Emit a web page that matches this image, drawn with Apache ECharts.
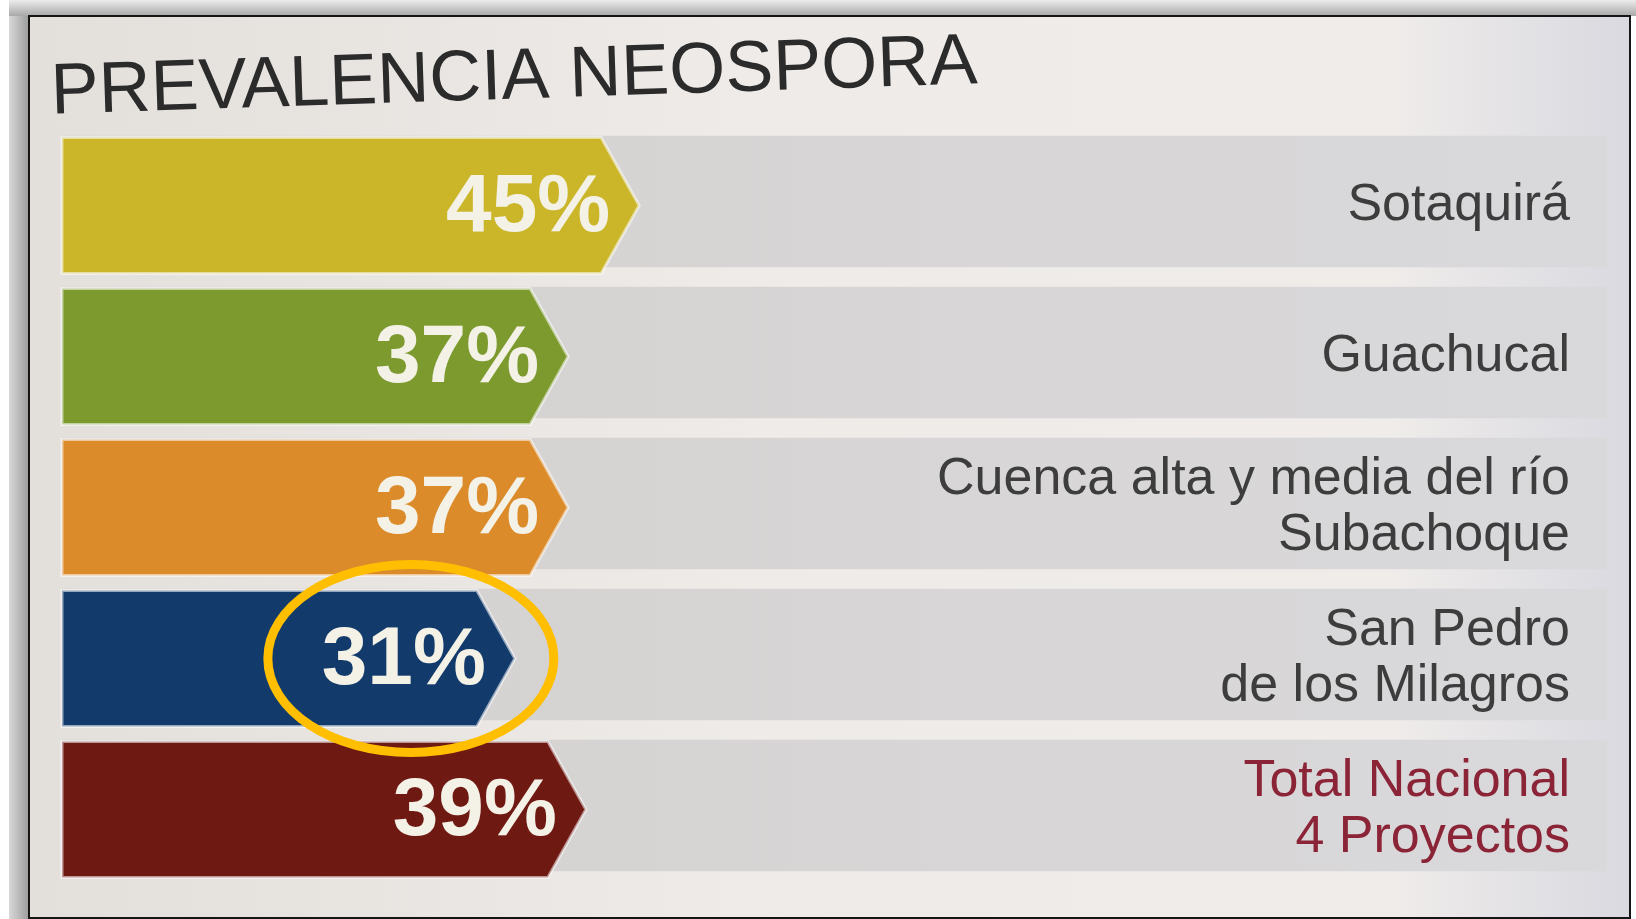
<!DOCTYPE html>
<html>
<head>
<meta charset="utf-8">
<title>Prevalencia Neospora</title>
<script src="https://cdn.jsdelivr.net/npm/echarts@6/dist/echarts.min.js"></script>
<style>
  html, body { margin: 0; padding: 0; background: #ffffff; }
  #chartBox { width: 1636px; height: 919px; }
</style>
</head>
<body>
<div id="chartBox"></div>
<script>
// datos
var categories = [
  'Sotaquirá',
  'Guachucal',
  'Cuenca alta y media del río\nSubachoque',
  'San Pedro\nde los Milagros',
  'Total Nacional\n4 Proyectos'
];
var values = [45, 37, 37, 31, 39];
var highlightIndex = 3; // fila marcada con la elipse amarilla

// colores de cada flecha
var barColors = ['#cbb62a', '#7d9a2e', '#db8b2a', '#123b6c', '#6f1913'];

var chart = echarts.init(document.getElementById('chartBox'));

function renderArrow(params, api) {
  var idx = api.value(1);
  var v = api.value(0);
  var cs = params.coordSys;
  var end = api.coord([v, idx]);
  var band = api.size([0, 1])[1];
  var h = band * 0.9;
  var gh = band * 0.87;
  var tip = 38;
  // las flechas salen del inicio del eje (la escala no parte de cero)
  var x0 = cs.x, x1 = end[0], yc = end[1];
  var top = yc - h / 2, bot = yc + h / 2;
  return {
    type: 'group',
    children: [
      {
        type: 'rect',
        shape: { x: x0, y: yc - gh / 2 - 4, width: cs.x + cs.width - x0, height: gh },
        style: {
          fill: new echarts.graphic.LinearGradient(0, 0, 1, 0, [
            { offset: 0, color: '#d3d0cf' },
            { offset: 0.6, color: '#d8d6d6' },
            { offset: 1, color: '#d9d8db' }
          ])
        }
      },
      {
        type: 'polygon',
        shape: { points: [[x0, top], [x1 - tip, top], [x1, yc], [x1 - tip, bot], [x0, bot]] },
        style: { fill: barColors[idx], stroke: 'rgba(255,255,255,0.55)', lineWidth: 3 }
      },
      {
        type: 'text',
        style: {
          text: v + '%',
          x: x1 - 29,
          y: yc + 3,
          align: 'right',
          verticalAlign: 'middle',
          fill: '#f4f1e6',
          fontSize: 82,
          fontWeight: 'bold',
          fontFamily: 'Liberation Sans, Arial, sans-serif'
        }
      }
    ]
  };
}

var option = {
  backgroundColor: '#ffffff',
  animation: false,
  graphic: [
    // sombra izquierda y franja superior del marco
    {
      type: 'rect', z: -10, silent: true,
      shape: { x: 9, y: 0, width: 20, height: 919 },
      style: {
        fill: new echarts.graphic.LinearGradient(0, 0, 1, 0, [
          { offset: 0, color: '#d8d8d8' },
          { offset: 1, color: '#9c9c9c' }
        ])
      }
    },
    {
      type: 'rect', z: -10, silent: true,
      shape: { x: 9, y: 0, width: 1627, height: 16 },
      style: {
        fill: new echarts.graphic.LinearGradient(0, 0, 0, 1, [
          { offset: 0, color: '#ececec' },
          { offset: 1, color: '#a8a8a8' }
        ])
      }
    },
    {
      type: 'rect', z: -9, silent: true,
      shape: { x: 29, y: 16, width: 1601, height: 902 },
      style: {
        fill: new echarts.graphic.LinearGradient(0, 0, 1, 0, [
          { offset: 0, color: '#e3dfdb' },
          { offset: 0.45, color: '#eeebe8' },
          { offset: 0.85, color: '#efecea' },
          { offset: 1, color: '#d9d9e0' }
        ]),
        stroke: '#151515',
        lineWidth: 2
      }
    },
    {
      type: 'text', z: 5,
      x: 52, y: 130,
      rotation: 0.033,
      style: {
        text: 'PREVALENCIA NEOSPORA',
        fill: '#2b2b2b',
        fontSize: 72,
        fontFamily: 'Liberation Sans, Arial, sans-serif',
        verticalAlign: 'bottom'
      }
    }
  ],
  grid: {
    left: 62,
    right: 29,
    top: 130,
    bottom: 34
  },
  xAxis: {
    type: 'value',
    min: -20,
    max: 154,
    show: false
  },
  yAxis: {
    type: 'category',
    data: categories,
    inverse: true,
    position: 'right',
    axisLine: { show: false },
    axisTick: { show: false },
    splitLine: { show: false },
    z: 10,
    axisLabel: {
      inside: true,
      margin: 37,
      align: 'right',
      color: '#3d3d3d',
      fontSize: 52,
      lineHeight: 56,
      fontFamily: 'Liberation Sans, Arial, sans-serif',
      formatter: function (val, idx) {
        if (idx === categories.length - 1) {
          return val.split('\n').map(function (s) { return '{total|' + s + '}'; }).join('\n');
        }
        return val;
      },
      rich: {
        total: {
          color: '#8a2436',
          fontSize: 52,
          lineHeight: 56,
          fontFamily: 'Liberation Sans, Arial, sans-serif'
        }
      }
    }
  },
  series: [
    {
      type: 'custom',
      renderItem: renderArrow,
      encode: { x: 0, y: 1 },
      data: values.map(function (v, i) { return [v, i]; }),
      z: 2
    }
  ]
};

chart.setOption(option);

// elipse amarilla alrededor del valor destacado
var tipPx = chart.convertToPixel({ seriesIndex: 0 }, [values[highlightIndex], highlightIndex]);
chart.setOption({
  graphic: [
    {
      id: 'marca',
      type: 'ellipse',
      z: 20,
      silent: true,
      shape: { cx: tipPx[0] - 104, cy: tipPx[1], rx: 143, ry: 94 },
      style: { fill: 'none', stroke: '#ffbf00', lineWidth: 9 }
    }
  ]
});
</script>
</body>
</html>
